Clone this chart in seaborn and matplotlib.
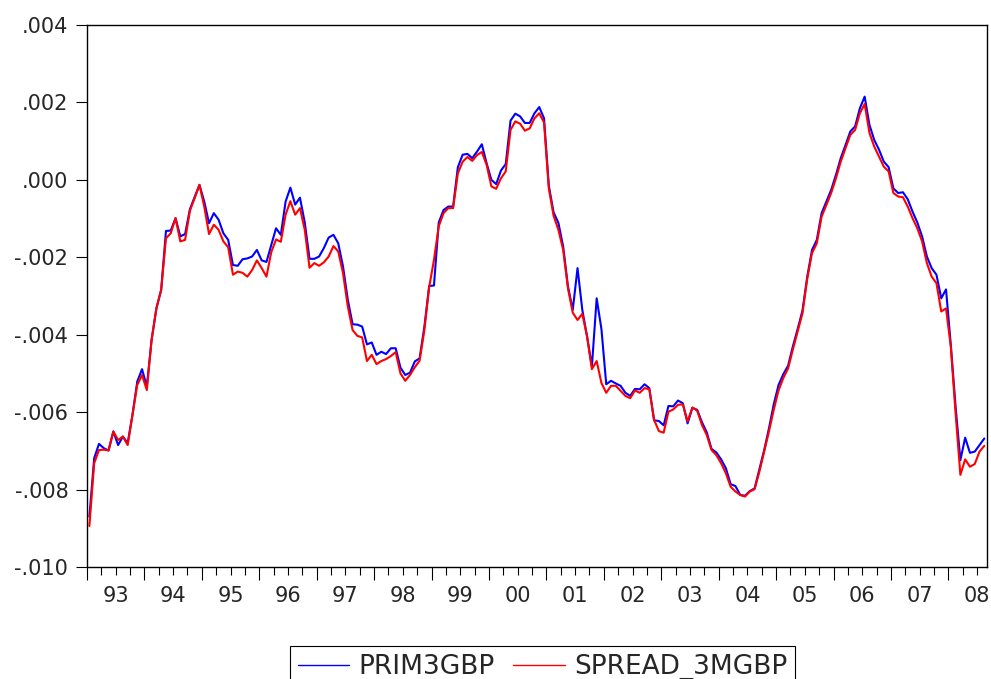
import numpy as np
import pandas as pd
import matplotlib
matplotlib.use('Agg')
import matplotlib.pyplot as plt
import seaborn as sns
from matplotlib.lines import Line2D
from matplotlib.ticker import FixedLocator, FuncFormatter, NullFormatter

# Monthly data, 1993M01 - 2008M08, values in thousandths (x 1e-3)
start_year = 1993
prim3gbp = [
    -8.70, -7.19, -6.82, -6.93, -6.99, -6.50, -6.85, -6.63, -6.80, -6.07, -5.21, -4.89,  # 1993
    -5.34, -4.13, -3.32, -2.84, -1.32, -1.31, -0.99, -1.46, -1.40, -0.76, -0.44, -0.13,  # 1994
    -0.56, -1.12, -0.86, -1.03, -1.38, -1.55, -2.20, -2.22, -2.05, -2.03, -1.98, -1.81,  # 1995
    -2.08, -2.12, -1.68, -1.25, -1.42, -0.56, -0.20, -0.64, -0.46, -1.10, -2.04, -2.04,  # 1996
    -1.98, -1.76, -1.49, -1.42, -1.64, -2.24, -3.10, -3.73, -3.74, -3.79, -4.25, -4.20,  # 1997
    -4.52, -4.44, -4.50, -4.35, -4.35, -4.85, -5.04, -4.98, -4.69, -4.61, -3.79, -2.74,  # 1998
    -2.73, -1.10, -0.78, -0.69, -0.69, 0.33, 0.65, 0.67, 0.56, 0.73, 0.92, 0.43,  # 1999
    0.00, -0.11, 0.24, 0.41, 1.53, 1.71, 1.64, 1.47, 1.47, 1.72, 1.88, 1.59,  # 2000
    -0.15, -0.84, -1.11, -1.72, -2.75, -3.36, -2.28, -3.36, -4.05, -4.82, -3.06, -3.86,  # 2001
    -5.28, -5.19, -5.26, -5.32, -5.50, -5.58, -5.40, -5.41, -5.28, -5.38, -6.21, -6.23,  # 2002
    -6.34, -5.84, -5.85, -5.70, -5.77, -6.29, -5.89, -5.94, -6.26, -6.52, -6.95, -7.04,  # 2003
    -7.22, -7.45, -7.86, -7.91, -8.14, -8.16, -8.04, -7.97, -7.47, -6.98, -6.42, -5.80,  # 2004
    -5.30, -5.02, -4.80, -4.30, -3.85, -3.38, -2.50, -1.81, -1.55, -0.86, -0.56, -0.26,  # 2005
    0.13, 0.56, 0.90, 1.25, 1.38, 1.85, 2.15, 1.42, 1.03, 0.78, 0.47, 0.33,  # 2006
    -0.22, -0.34, -0.32, -0.50, -0.82, -1.10, -1.46, -1.98, -2.28, -2.45, -3.06, -2.83,  # 2007
    -4.26, -5.86, -7.24, -6.66, -7.05, -7.02, -6.85, -6.68,  # 2008
]
spread_3mgbp = [
    -8.94, -7.32, -6.98, -6.97, -6.99, -6.50, -6.72, -6.63, -6.85, -6.07, -5.30, -5.04,  # 1993
    -5.43, -4.13, -3.32, -2.84, -1.51, -1.38, -0.99, -1.59, -1.55, -0.80, -0.47, -0.13,  # 1994
    -0.69, -1.40, -1.16, -1.29, -1.59, -1.74, -2.45, -2.37, -2.40, -2.50, -2.33, -2.08,  # 1995
    -2.28, -2.50, -1.87, -1.54, -1.60, -0.90, -0.55, -0.90, -0.73, -1.29, -2.27, -2.15,  # 1996
    -2.22, -2.13, -1.98, -1.71, -1.85, -2.41, -3.27, -3.88, -4.03, -4.07, -4.68, -4.52,  # 1997
    -4.76, -4.68, -4.63, -4.55, -4.45, -5.00, -5.19, -5.04, -4.84, -4.67, -3.88, -2.77,  # 1998
    -2.07, -1.20, -0.86, -0.73, -0.73, 0.17, 0.47, 0.59, 0.49, 0.64, 0.72, 0.39,  # 1999
    -0.17, -0.23, 0.04, 0.22, 1.29, 1.51, 1.45, 1.27, 1.33, 1.59, 1.72, 1.48,  # 2000
    -0.22, -0.93, -1.29, -1.81, -2.80, -3.43, -3.62, -3.46, -4.05, -4.89, -4.68, -5.25,  # 2001
    -5.50, -5.32, -5.32, -5.45, -5.58, -5.64, -5.44, -5.50, -5.38, -5.41, -6.20, -6.49,  # 2002
    -6.53, -5.99, -5.93, -5.81, -5.80, -6.24, -5.88, -5.96, -6.33, -6.59, -6.98, -7.11,  # 2003
    -7.32, -7.58, -7.93, -8.05, -8.14, -8.18, -8.05, -7.99, -7.54, -7.02, -6.50, -5.94,  # 2004
    -5.44, -5.12, -4.87, -4.38, -3.92, -3.45, -2.56, -1.89, -1.64, -0.95, -0.65, -0.34,  # 2005
    0.04, 0.47, 0.82, 1.16, 1.29, 1.72, 1.96, 1.21, 0.86, 0.60, 0.34, 0.22,  # 2006
    -0.34, -0.43, -0.45, -0.69, -0.99, -1.25, -1.59, -2.15, -2.50, -2.67, -3.40, -3.32,  # 2007
    -4.31, -6.03, -7.62, -7.22, -7.41, -7.34, -7.02, -6.87,  # 2008
]
series_names = ['PRIM3GBP', 'SPREAD_3MGBP']
series_colors = {'PRIM3GBP': '#0000ff', 'SPREAD_3MGBP': '#ff0000'}

# Build long dataframe (monthly obs placed mid-month)
n = len(prim3gbp)
t = start_year + (np.arange(n) + 0.5) / 12
df = pd.DataFrame({'t': t,
                   'PRIM3GBP': np.array(prim3gbp) * 1e-3,
                   'SPREAD_3MGBP': np.array(spread_3mgbp) * 1e-3})
df_long = df.melt(id_vars='t', var_name='series', value_name='value')

sns.set_style('white')
plt.rcParams['font.family'] = ['DejaVu Sans']

fig = plt.figure(figsize=(9.91, 6.79), dpi=100)
ax = fig.add_axes([87 / 991, 1 - 567 / 679, 899.7 / 991, 542 / 679])

sns.lineplot(data=df_long, x='t', y='value', hue='series', hue_order=series_names,
             palette=series_colors, linewidth=1.5, ax=ax, legend=False)

ax.set_xlim(start_year, start_year + n / 12)
ax.set_ylim(-0.010, 0.004)
ax.set_xlabel('')
ax.set_ylabel('')

# Y axis
ax.set_yticks(np.arange(-0.010, 0.0041, 0.002))
ax.yaxis.set_major_formatter(FuncFormatter(lambda v, p: f"{v:.3f}".replace('0.', '.', 1)))
ax.tick_params(axis='y', which='major', left=True, length=8, width=0.8,
               direction='out', labelsize=15, pad=5.5, color='black')

# X axis: year ticks, quarter minor ticks, labels centred in each year
years = np.arange(start_year, 2009)
ax.xaxis.set_major_locator(FixedLocator(years))
ax.xaxis.set_minor_locator(FixedLocator([y + q / 4 for y in years for q in (1, 2, 3)]))
ax.xaxis.set_major_formatter(NullFormatter())
ax.xaxis.set_minor_formatter(FuncFormatter(
    lambda v, p: f"{int(v) % 100:02d}" if abs(v - int(v) - 0.5) < 1e-6 else ""))
ax.tick_params(axis='x', which='major', bottom=True, length=9.5, width=0.8,
               direction='out', color='black')
ax.tick_params(axis='x', which='minor', bottom=True, length=6, width=0.8,
               direction='out', labelsize=15, pad=8, color='black')

for s in ax.spines.values():
    s.set_visible(True)
    s.set_color('black')
    s.set_linewidth(1.0)

# Legend below the plot (partly cut by the figure edge, as in the original)
handles = [Line2D([], [], color=series_colors[k], linewidth=1.0) for k in series_names]
leg = ax.legend(handles, series_names, loc='upper center', ncol=2,
                bbox_to_anchor=(542.5 / 991, 1 - 646 / 679), bbox_transform=fig.transFigure,
                fontsize=19, frameon=True, fancybox=False, framealpha=1,
                edgecolor='black', borderpad=0.3, handlelength=1.95,
                handletextpad=0.35, columnspacing=0.7, borderaxespad=0)
leg.get_frame().set_linewidth(0.8)

fig.savefig('out.png', dpi=100)
